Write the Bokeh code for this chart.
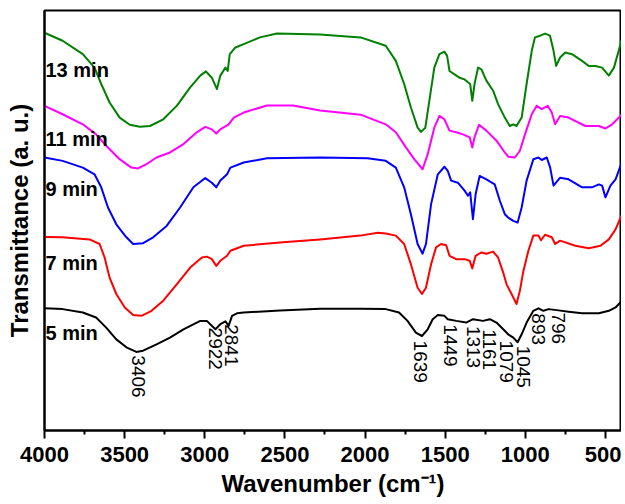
import math
from bokeh.plotting import figure
from bokeh.models import Range1d, FixedTicker, ColumnDataSource
from bokeh.core.properties import value
from bokeh.embed import file_html
from bokeh.resources import INLINE

# ---- data (wavenumber, cm-1 ; transmittance, a.u.) ----
wn_5 = [4000, 3887, 3761, 3678, 3615, 3552, 3489, 3427, 3385, 3301, 3217, 3133, 3028, 2987, 2966, 2934, 2903,
        2871, 2851, 2830, 2799, 2757, 2530, 2280, 2030, 1871, 1788, 1735, 1683, 1645, 1609, 1578, 1546, 1505,
        1484, 1431, 1369, 1327, 1264, 1222, 1180, 1138, 1107, 1075, 1048, 1023, 992, 950, 918, 887, 855, 793,
        730, 646, 541, 479, 437, 400]
t_5 = [29.1, 28.9, 28.1, 26.9, 24.5, 21.7, 19.8, 18.7, 19.0, 20.5, 22.1, 24.1, 26.1, 26.1, 25.3, 24.1, 25.3,
       26.0, 24.9, 27.3, 27.9, 28.1, 28.6, 29.0, 29.0, 28.9, 28.1, 26.1, 23.3, 22.5, 24.1, 26.5, 27.5, 27.3,
       26.5, 26.1, 25.7, 26.5, 26.1, 26.5, 25.7, 24.1, 22.9, 22.1, 21.0, 22.9, 25.7, 28.5, 29.1, 28.5, 28.9, 28.6,
       28.3, 27.9, 27.9, 28.5, 29.3, 30.8]

wn_7 = [4000, 3887, 3719, 3656, 3625, 3594, 3552, 3499, 3447, 3395, 3332, 3259, 3175, 3091, 3018, 2987, 2956,
        2928, 2903, 2861, 2840, 2757, 2512, 2280, 2030, 1920, 1871, 1808, 1756, 1714, 1672, 1645, 1620, 1588,
        1557, 1526, 1494, 1473, 1431, 1379, 1347, 1331, 1310, 1274, 1243, 1201, 1170, 1138, 1117, 1086, 1055,
        1034, 1012, 981, 950, 918, 902, 877, 835, 814, 783, 688, 604, 531, 479, 437, 400]
t_7 = [46.1, 46.0, 45.5, 44.4, 41.2, 36.4, 32.5, 29.3, 27.5, 27.3, 28.5, 30.9, 34.8, 38.8, 41.2, 41.4, 40.8,
       39.2, 40.4, 41.6, 42.8, 44.0, 44.8, 45.5, 46.4, 47.1, 46.9, 46.4, 44.4, 39.6, 34.0, 32.5, 34.0, 39.6,
       43.6, 44.4, 44.1, 41.6, 40.8, 40.8, 40.4, 38.6, 41.6, 42.4, 42.1, 42.6, 41.2, 37.6, 34.8, 32.5, 30.1,
       33.3, 38.0, 42.8, 46.4, 46.4, 45.3, 46.6, 46.0, 44.4, 45.2, 44.0, 43.4, 44.0, 45.5, 47.9, 51.2]

wn_9 = [4000, 3887, 3761, 3688, 3646, 3604, 3552, 3489, 3447, 3385, 3322, 3238, 3154, 3071, 2997, 2956, 2928,
        2903, 2861, 2840, 2757, 2612, 2280, 1984, 1871, 1808, 1756, 1714, 1672, 1641, 1620, 1588, 1546, 1505,
        1484, 1463, 1421, 1379, 1358, 1344, 1327, 1310, 1285, 1243, 1191, 1159, 1128, 1107, 1075, 1048, 1023,
        992, 950, 918, 898, 866, 845, 824, 783, 730, 646, 584, 541, 521, 500, 469, 437, 406, 400]
t_9 = [65.0, 64.2, 62.6, 61.0, 57.9, 53.1, 49.1, 46.0, 44.4, 44.6, 46.0, 48.7, 53.1, 57.9, 60.1, 59.0, 57.9,
       59.5, 61.0, 62.6, 63.8, 64.8, 65.0, 64.8, 64.2, 62.6, 57.9, 51.5, 44.4, 42.1, 44.4, 53.9, 61.0, 62.8,
       61.8, 59.5, 59.0, 57.1, 55.9, 56.7, 50.3, 56.3, 60.6, 59.8, 58.6, 54.7, 51.5, 50.7, 49.9, 49.5, 53.1,
       59.5, 64.6, 65.0, 64.4, 65.0, 62.6, 58.3, 60.2, 59.8, 57.9, 57.9, 58.6, 58.3, 55.5, 58.3, 59.8, 63.0, 63.8]

wn_11 = [4000, 3887, 3761, 3678, 3615, 3531, 3458, 3416, 3364, 3301, 3217, 3133, 3050, 2997, 2956, 2928, 2903,
         2851, 2819, 2757, 2612, 2449, 2280, 2028, 1871, 1808, 1745, 1693, 1641, 1609, 1568, 1536, 1505, 1473,
         1431, 1389, 1347, 1331, 1317, 1289, 1243, 1180, 1128, 1107, 1065, 1034, 1002, 960, 929, 898, 860, 835,
         814, 783, 730, 626, 541, 500, 458, 406, 400]
t_11 = [77.3, 75.3, 72.9, 70.5, 67.8, 64.6, 62.6, 62.4, 63.4, 65.0, 66.2, 68.2, 71.0, 72.3, 71.7, 70.7, 71.7,
        72.9, 74.5, 75.7, 77.4, 77.4, 76.2, 75.2, 72.9, 71.0, 67.4, 64.6, 62.2, 65.8, 72.1, 74.9, 74.1, 71.4,
        71.0, 70.5, 69.8, 67.4, 69.8, 72.8, 71.4, 69.0, 66.2, 65.2, 65.0, 66.6, 70.5, 75.3, 77.3, 76.5, 77.3, 75.7,
        72.9, 74.9, 74.5, 72.5, 72.5, 71.9, 72.9, 74.9, 75.3]

wn_13 = [4000, 3887, 3761, 3688, 3646, 3594, 3531, 3468, 3405, 3342, 3259, 3175, 3091, 3028, 2993, 2956, 2924,
         2903, 2871, 2857, 2844, 2809, 2757, 2656, 2549, 2280, 2028, 1871, 1808, 1756, 1714, 1672, 1651, 1624,
         1599, 1568, 1536, 1505, 1488, 1473, 1442, 1411, 1379, 1358, 1344, 1331, 1317, 1295, 1274, 1243, 1201,
         1170, 1128, 1097, 1075, 1055, 1023, 992, 960, 940, 908, 877, 846, 824, 808, 783, 751, 709, 646, 604,
         563, 521, 479, 447, 406, 400]
t_13 = [94.7, 92.8, 89.6, 86.4, 82.5, 78.1, 74.5, 72.8, 72.3, 72.5, 74.1, 77.3, 81.7, 84.5, 85.5, 84.0, 81.3,
        84.5, 86.4, 85.6, 89.6, 91.2, 92.0, 93.6, 94.5, 94.3, 93.6, 91.6, 88.0, 82.5, 76.9, 72.1, 71.1, 72.1,
        78.5, 86.4, 89.6, 90.2, 89.2, 85.6, 84.8, 84.0, 83.6, 82.9, 82.5, 78.5, 82.5, 86.4, 86.0, 83.3, 80.9,
        77.7, 74.5, 72.5, 72.9, 72.5, 74.5, 82.5, 90.4, 93.6, 94.0, 94.5, 94.0, 90.4, 86.8, 88.8, 90.0, 89.6,
        88.0, 86.8, 86.8, 86.4, 84.5, 86.4, 92.0, 93.0]

series_names = ["5 min", "7 min", "9 min", "11 min", "13 min"]
series_label_t = [23.1, 40.0, 57.5, 69.4, 85.8]

peak_wn = [3406, 2922, 2841, 1639, 1449, 1313, 1161, 1079, 1045, 893, 796]
peak_label_t = [17.9, 24.5, 25.3, 21.4, 25.3, 24.9, 24.1, 21.4, 20.2, 27.9, 28.1]

x_ticks = [4000, 3500, 3000, 2500, 2000, 1500, 1000, 500]
x_minor = [3750, 3250, 2750, 2250, 1750, 1250, 750]

# ---- figure ----
FONT = "Liberation Sans"
p = figure(width=621, height=501, x_range=Range1d(4000, 400), y_range=Range1d(0, 100),
           output_backend="svg", toolbar_location=None,
           min_border_left=44, min_border_right=0, min_border_top=10, min_border_bottom=71)
p.background_fill_color = "white"
p.border_fill_color = "white"
p.outline_line_color = "black"
p.outline_line_width = 2
p.xgrid.grid_line_color = None
p.ygrid.grid_line_color = None

xa = p.xaxis[0]
xa.ticker = FixedTicker(ticks=x_ticks, minor_ticks=x_minor)
xa.axis_line_width = 2
xa.major_tick_line_width = 2
xa.minor_tick_line_width = 2
xa.major_tick_out = 8
xa.major_tick_in = 0
xa.minor_tick_out = 4
xa.minor_tick_in = 0
xa.major_label_text_font = FONT
xa.major_label_text_font_style = "bold"
xa.major_label_text_font_size = "22px"
xa.major_label_text_color = "black"
xa.major_label_standoff = 8
xa.axis_label = "Wavenumber (cm\u207b\u00b9)"
xa.axis_label_text_font = FONT
xa.axis_label_text_font_style = "bold"
xa.axis_label_text_font_size = "24px"
xa.axis_label_text_color = "black"
xa.axis_label_standoff = 5

ya = p.yaxis[0]
ya.ticker = FixedTicker(ticks=[])
ya.axis_line_width = 2
ya.major_tick_line_color = None
ya.minor_tick_line_color = None
ya.axis_label = "Transmittance (a. u.)"
ya.axis_label_text_font = FONT
ya.axis_label_text_font_style = "bold"
ya.axis_label_text_font_size = "24px"
ya.axis_label_text_color = "black"
ya.axis_label_standoff = 12

colors = ["black", "#ff0000", "#0000ff", "#ff00ff", "#008000"]
series = [(wn_5, t_5), (wn_7, t_7), (wn_9, t_9), (wn_11, t_11), (wn_13, t_13)]
for (wn, t), c in zip(series, colors):
    p.line(wn, t, line_color=c, line_width=2, line_join="round")

lab_src = ColumnDataSource(dict(x=[x_ticks[0]] * len(series_names), y=series_label_t, text=series_names))
p.text(x="x", y="y", text="text", source=lab_src, text_font=value(FONT), text_font_style="bold",
       text_font_size="20px", text_align="left", text_baseline="alphabetic", text_color="black", x_offset=1)

label_dx = [-1, -2, 1, -2, -3, -2, -10, -6, 5, -4, 0]
pk_src = ColumnDataSource(dict(x=peak_wn, y=peak_label_t, text=[str(w) for w in peak_wn], dx=label_dx))
p.text(x="x", y="y", text="text", source=pk_src, angle=-math.pi / 2, x_offset="dx",
       text_font=value(FONT), text_font_size="19px", text_align="left", text_baseline="middle",
       text_color="black")

open("out.html", "w").write(file_html(p, INLINE))
